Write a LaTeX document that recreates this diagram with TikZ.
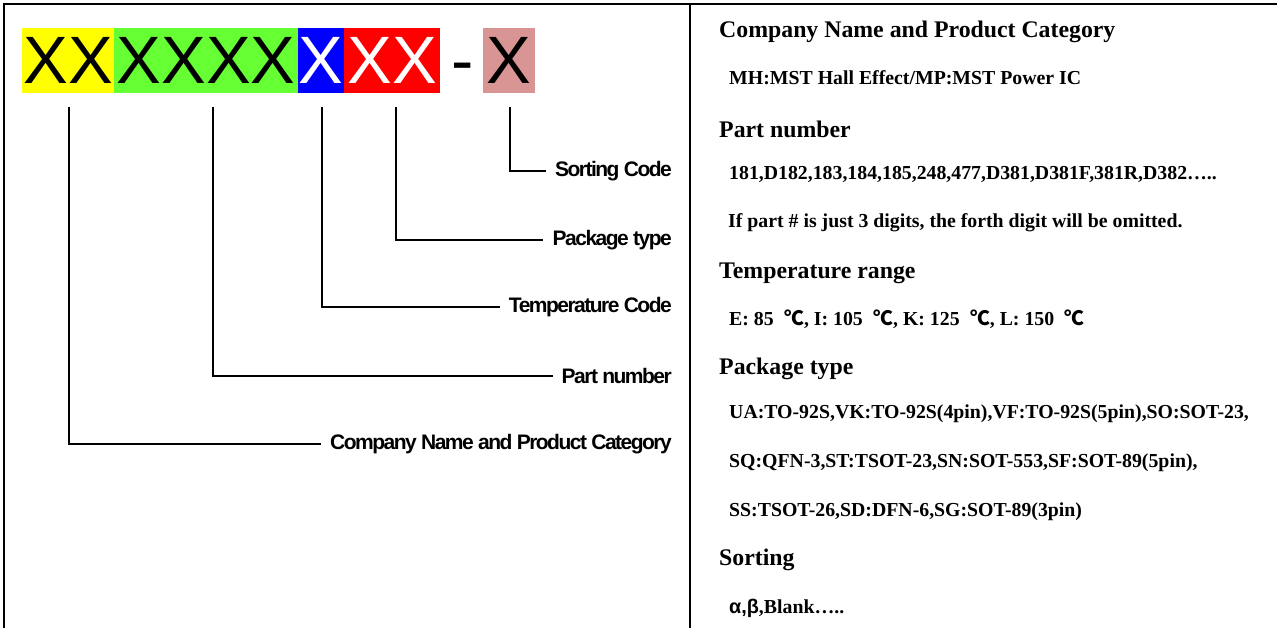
\documentclass[tikz,border=0pt]{standalone}
\usepackage{fontspec}
\setmainfont{Liberation Serif}
\newfontfamily\arialfont{Liberation Sans}
\newfontfamily\lblfont[LetterSpace=-7.2]{Liberation Sans}
\newfontfamily\cjk{Noto Sans CJK SC}
\definecolor{cyel}{HTML}{FFFF00}
\definecolor{cgrn}{HTML}{66FF33}
\definecolor{cblu}{HTML}{0000FF}
\definecolor{cred}{HTML}{FF0000}
\definecolor{cpnk}{HTML}{D99594}
\tikzset{
  codebox/.style={anchor=north west, inner sep=0pt, minimum height=65pt,
    font=\fontsize{67}{67}\arialfont},
  leader/.style={line width=1.5pt},
  lbl/.style={anchor=east, inner sep=0pt, font=\fontsize{21}{21}\lblfont\bfseries},
  head/.style={anchor=west, inner sep=0pt, font=\fontsize{23.8}{24}\selectfont\bfseries},
  sub/.style={anchor=west, inner sep=0pt, font=\fontsize{19.8}{20}\selectfont\bfseries},
  frame/.style={line width=2.5pt}
}
\begin{document}
\begin{tikzpicture}[x=1pt,y=-1pt]
\useasboundingbox (0,0) rectangle (1277,628);
% frame
\draw[frame] (4,628) -- (4,4) -- (1277,4);
\draw[line width=2pt] (690,4) -- (690,628);
% code boxes
\node[codebox, fill=cyel, minimum width=92pt] (yb) at (22,28) {XX};
\node[codebox, fill=cgrn, minimum width=184pt] (gb) at (114,28) {XXXX};
\node[codebox, fill=cblu, minimum width=46pt, text=white] (bb) at (298,28) {X};
\node[codebox, fill=cred, minimum width=96pt, text=white] (rb) at (344,28) {XX};
\node[codebox, fill=cpnk, minimum width=52pt] (pb) at (483,28) {X};
\coordinate (dx) at (463,0);
\node[anchor=base, inner sep=0pt, font=\fontsize{67}{67}\arialfont] (dash) at (yb.base -| dx) {-};
% leader start points
\coordinate (t1) at (69,107);
\coordinate (t2) at (213,107);
\coordinate (t3) at (322,107);
\coordinate (t4) at (396,107);
\coordinate (t5) at (510,107);
% labels
\node[lbl] (l5) at (672,171) {Sorting Code};
\node[lbl] (l4) at (672,240) {Package type};
\node[lbl] (l3) at (672,307) {Temperature Code};
\node[lbl] (l2) at (672,376) {Part number};
\node[lbl] (l1) at (672,444) {Company Name and Product Category};
\draw[leader] (t5) |- ([xshift=-9pt]l5.west);
\draw[leader] (t4) |- ([xshift=-9pt]l4.west);
\draw[leader] (t3) |- ([xshift=-9pt]l3.west);
\draw[leader] (t2) |- ([xshift=-9pt]l2.west);
\draw[leader] (t1) |- ([xshift=-9pt]l1.west);
% right panel
\node[head] (h1) at (719,32) {Company Name and Product Category};
\node[sub] (s1) at (729,78) {MH:MST Hall Effect/MP:MST Power IC};
\node[head] (h2) at (719,129) {Part number};
\node[sub] (s2) at (729,174) {181,D182,183,184,185,248,477,D381,D381F,381R,D382…..};
\node[sub] (s3) at (728,223) {If part \# is just 3 digits, the forth digit will be omitted.};
\node[head] (h3) at (719,273) {Temperature range};
\node[sub] (s4) at (729,319) {E: 85 \;{\cjk ℃}, I: 105 \;{\cjk ℃}, K: 125 \;{\cjk ℃}, L: 150 \;{\cjk ℃}};
\node[head] (h4) at (719,369) {Package type};
\node[sub] (s5) at (729,414) {UA:TO-92S,VK:TO-92S(4pin),VF:TO-92S(5pin),SO:SOT-23,};
\node[sub] (s6) at (729,463) {SQ:QFN-3,ST:TSOT-23,SN:SOT-553,SF:SOT-89(5pin),};
\node[sub] (s7) at (729,512) {SS:TSOT-26,SD:DFN-6,SG:SOT-89(3pin)};
\node[head] (h5) at (719,560) {Sorting};
\node[sub] (s8) at (729,608) {{\arialfont α,β},Blank…..};
\end{tikzpicture}
\end{document}
